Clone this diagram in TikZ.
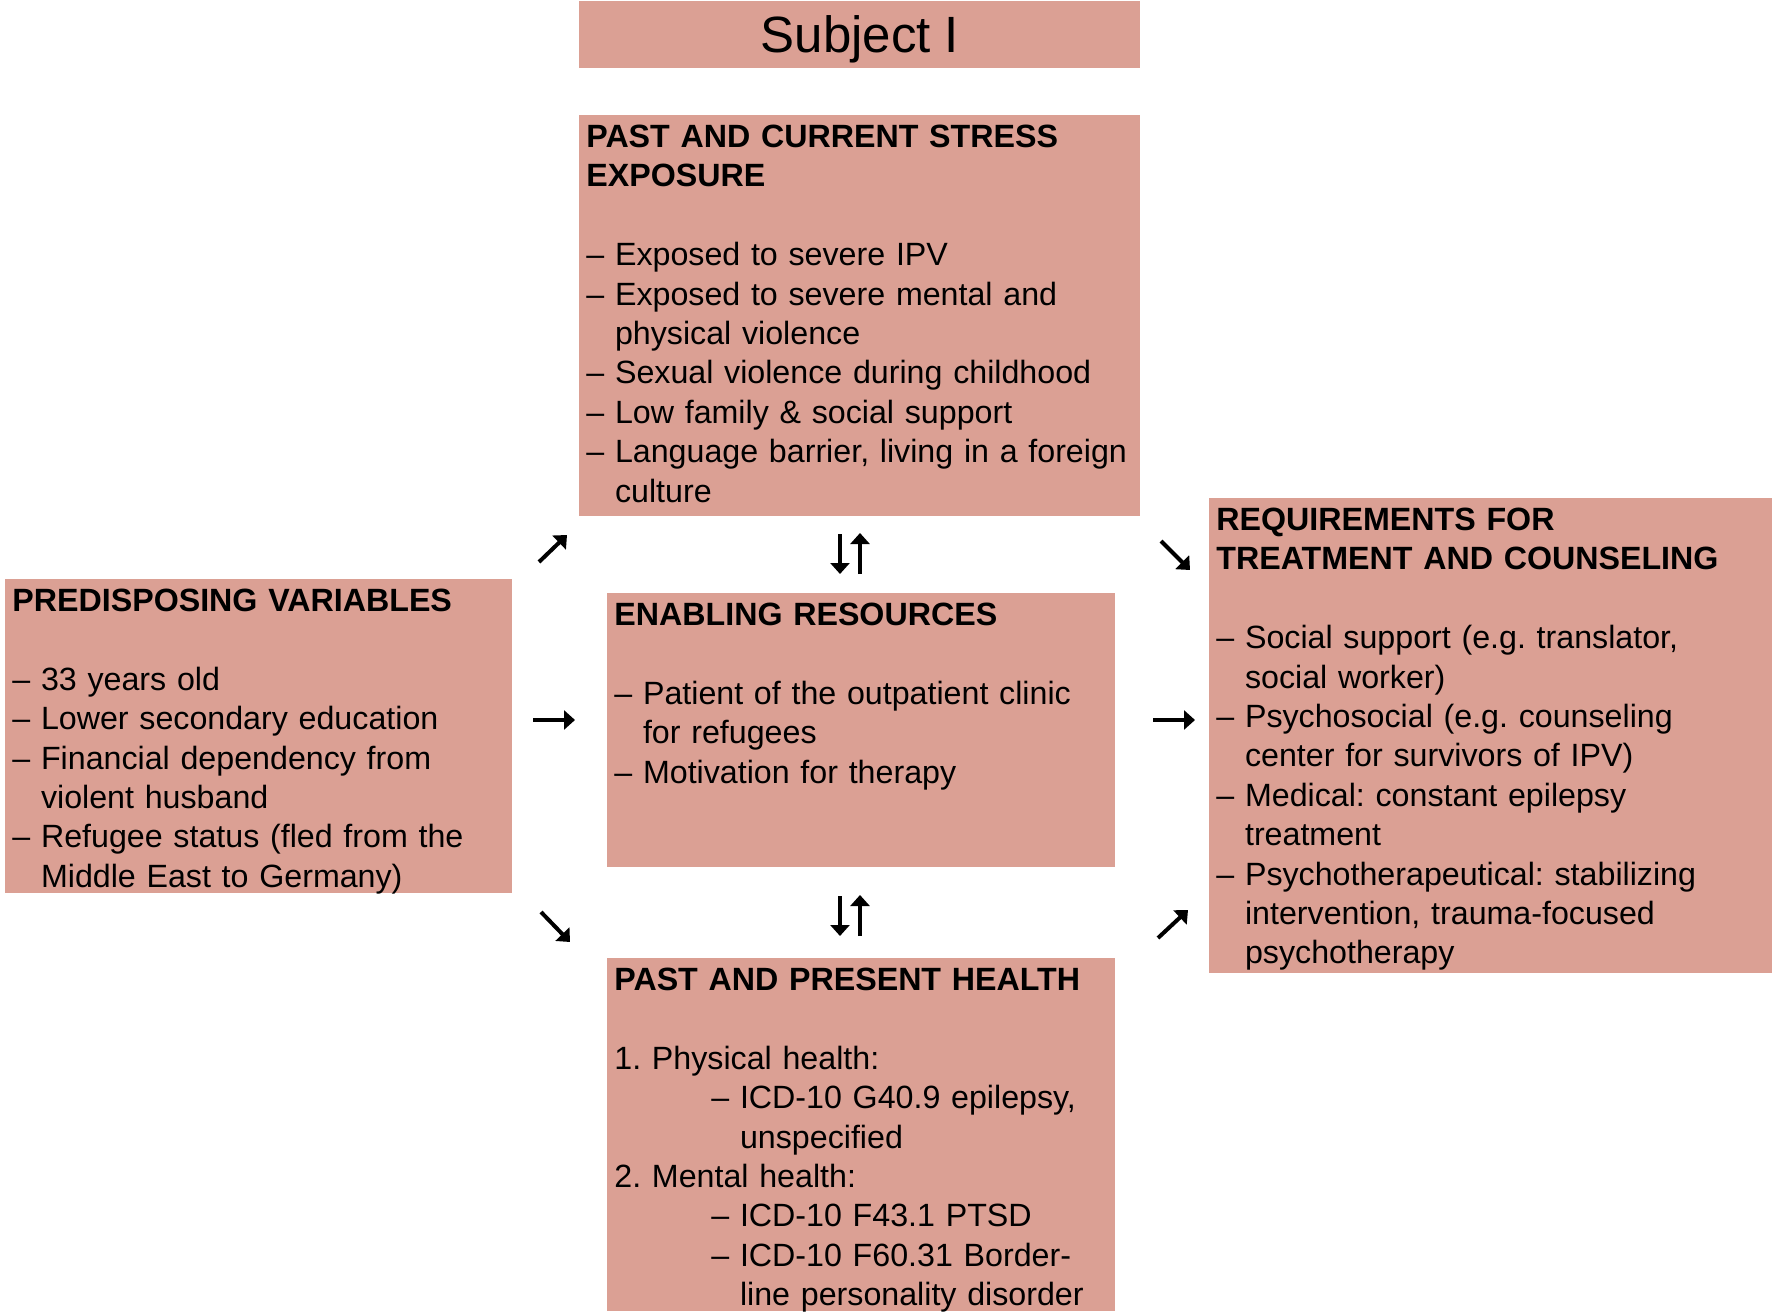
\documentclass[tikz,border=0pt]{standalone}
\usepackage{fontspec}
\setmainfont{Liberation Sans}
\usetikzlibrary{arrows.meta}
\definecolor{boxpink}{RGB}{219,160,148}
\newcommand{\dind}{\hphantom{–\ }}
\newcommand{\hind}{\hspace*{48.5pt}}
\frenchspacing
\begin{document}
\begin{tikzpicture}[x=0.5pt,y=-0.5pt,
  pbox/.style={fill=boxpink,draw=none,anchor=north west,inner sep=0pt},
  btext/.style={anchor=north west,inner sep=0pt,align=left,text width=300pt,
    font=\fontsize{16.1}{19.7}\selectfont\frenchspacing},
  arr/.style={line width=2pt,-{Triangle[length=5.5pt,width=9.5pt]}}]
\useasboundingbox (0,0) rectangle (1772,1316);
% boxes
\node[pbox,minimum width=280.5pt,minimum height=33.5pt] (title) at (579,1) {};
\node[anchor=base,inner sep=0pt,font=\fontsize{25.5}{30}\selectfont] (titletext) at (860,53) {Subject I};
\node[pbox,minimum width=280.5pt,minimum height=200.5pt] (stress) at (579,115) {};
\node[pbox,minimum width=253.5pt,minimum height=157pt] (pred) at (5,579) {};
\node[pbox,minimum width=254pt,minimum height=137pt] (enab) at (607,593) {};
\node[pbox,minimum width=254pt,minimum height=176.5pt] (health) at (607,958) {};
\node[pbox,minimum width=281.5pt,minimum height=237.5pt] (req) at (1209,498) {};
% texts
\node[btext] (stresstext) at ([xshift=3.5pt,yshift=-2.3pt]stress.north west) {\strut\textbf{PAST AND CURRENT STRESS}\\
\textbf{EXPOSURE}\\
\mbox{}\\
– Exposed to severe IPV\\
– Exposed to severe mental and\\
\dind physical violence\\
– Sexual violence during childhood\\
– Low family \& social support\\
– Language barrier, living in a foreign\\
\dind culture};
\node[btext] (predtext) at ([xshift=3.5pt,yshift=-2.3pt]pred.north west) {\strut\textbf{PREDISPOSING VARIABLES}\\
\mbox{}\\
– 33 years old\\
– Lower secondary education\\
– Financial dependency from\\
\dind violent husband\\
– Refugee status (fled from the\\
\dind Middle East to Germany)};
\node[btext] (enabtext) at ([xshift=3.5pt,yshift=-2.3pt]enab.north west) {\strut\textbf{ENABLING RESOURCES}\\
\mbox{}\\
– Patient of the outpatient clinic\\
\dind for refugees\\
– Motivation for therapy};
\node[btext] (reqtext) at ([xshift=3.5pt,yshift=-2.3pt]req.north west) {\strut\textbf{REQUIREMENTS FOR}\\
\textbf{TREATMENT AND COUNSELING}\\
\mbox{}\\
– Social support (e.g. translator,\\
\dind social worker)\\
– Psychosocial (e.g. counseling\\
\dind center for survivors of IPV)\\
– Medical: constant epilepsy\\
\dind treatment\\
– Psychotherapeutical: stabilizing\\
\dind intervention, trauma-focused\\
\dind psychotherapy};
\node[btext] (healthtext) at ([xshift=3.5pt,yshift=-2.3pt]health.north west) {\strut\textbf{PAST AND PRESENT HEALTH}\\
\mbox{}\\
1. Physical health:\\
\hind– ICD-10 G40.9 epilepsy,\\
\hind\dind unspecified\\
2. Mental health:\\
\hind– ICD-10 F43.1 PTSD\\
\hind– ICD-10 F60.31 Border-\\
\hind\dind line personality disorder};
% arrow coordinates
\coordinate (a1s) at (539,562); \coordinate (a1e) at (567,535);
\coordinate (a2s) at (840,534); \coordinate (a2e) at (840,574);
\coordinate (a3s) at (860,574); \coordinate (a3e) at (860,533);
\coordinate (a4s) at (1161,541); \coordinate (a4e) at (1190,570);
\coordinate (a5s) at (533,720); \coordinate (a5e) at (575,720);
\coordinate (a6s) at (1153,720); \coordinate (a6e) at (1195,720);
\coordinate (a7s) at (541,912); \coordinate (a7e) at (570,942);
\coordinate (a8s) at (840,896); \coordinate (a8e) at (840,936);
\coordinate (a9s) at (860,936); \coordinate (a9e) at (860,895);
\coordinate (a10s) at (1158,938); \coordinate (a10e) at (1188,910);
\foreach \i in {1,...,10} {\draw[arr] (a\i s) -- (a\i e);}
\end{tikzpicture}
\end{document}
